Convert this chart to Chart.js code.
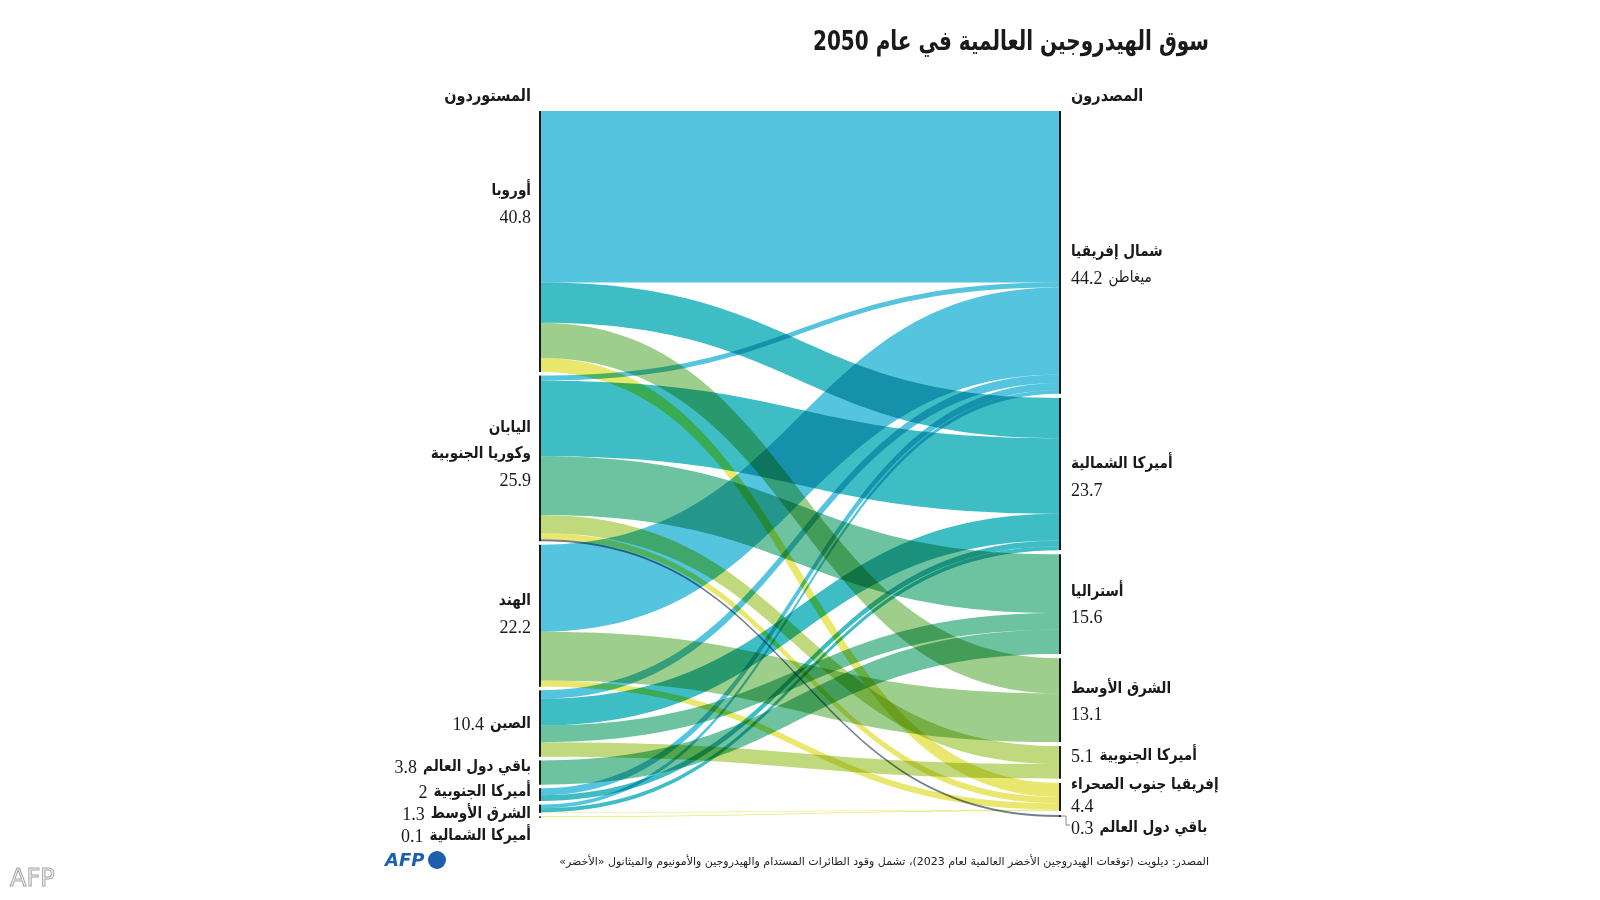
<!DOCTYPE html>
<html>
<head>
<meta charset="utf-8">
<script src="https://cdn.jsdelivr.net/npm/chart.js@4.4.1/dist/chart.umd.min.js"></script>
<style>
  html, body { margin: 0; padding: 0; background: #fff; }
  #wrap { width: 1600px; height: 900px; position: relative; }
</style>
</head>
<body>
<div id="wrap"><canvas id="chart" width="1600" height="900"></canvas></div>
<script>
// --- DADOS ---
const importers = ['أوروبا', 'اليابان وكوريا الجنوبية', 'الهند', 'الصين', 'باقي دول العالم', 'أميركا الجنوبية', 'الشرق الأوسط', 'أميركا الشمالية'];
const importerValues = ['40.8', '25.9', '22.2', '10.4', '3.8', '2', '1.3', '0.1'];
const exporters = ['شمال إفريقيا', 'أميركا الشمالية', 'أستراليا', 'الشرق الأوسط', 'أميركا الجنوبية', 'إفريقيا جنوب الصحراء', 'باقي دول العالم'];
const exporterValues = ['44.2', '23.7', '15.6', '13.1', '5.1', '4.4', '0.3'];

// fluxos de cada exportador, na ordem dos importadores
const fromNorthAfrica  = [26.8, 0.8, 13.6, 1.3, 0,   1.1, 0.6, 0];
const fromNorthAmerica = [6.3, 11.8, 0,    4.2, 0,   0.9, 0.6, 0];
const fromAustralia    = [0,    9.2, 0,    2.6, 3.8, 0,   0,   0];
const fromMiddleEast   = [5.5,  0,   7.6,  0,   0,   0,   0,   0];
const fromSouthAmerica = [0,    2.8, 0,    2.3, 0,   0,   0,   0];
const fromSubSahara    = [2.2,  1.0, 1.0,  0,   0,   0,   0.1, 0.1];
const fromRestOfWorld  = [0,    0.3, 0,    0,   0,   0,   0,   0];

const flows = [fromNorthAfrica, fromNorthAmerica, fromAustralia, fromMiddleEast, fromSouthAmerica, fromSubSahara, fromRestOfWorld];
const flowColors = ['#55c4de', '#3ebdc5', '#6dc3a0', '#9dce8c', '#bfd97c', '#eae76e', '#6f7f8e'];

// tamanhos dos nós a partir dos fluxos
const leftSizes = importers.map((_, i) => flows.reduce((s, f) => s + f[i], 0));
const rightSizes = flows.map(f => f.reduce((s, v) => s + v, 0));
const GAP_L = 0.55;
const sumL = leftSizes.reduce((a, b) => a + b, 0);
const sumR = rightSizes.reduce((a, b) => a + b, 0);
const Y_MAX = sumL + GAP_L * (leftSizes.length - 1);
const GAP_R = (Y_MAX - sumR) / (rightSizes.length - 1);

const ARABIC = "'DejaVu Sans', 'Noto Sans', sans-serif";
const DIGITS = "'Liberation Serif', 'DejaVu Serif', serif";
const K = 0.85; // compressão horizontal do texto árabe

function tops(sizes, gap) {
    const out = [];
    let acc = 0;
    sizes.forEach(s => { out.push(acc); acc += s + gap; });
    return out;
}

// --- PLUGIN SANKEY ---
const sankeyPlugin = {
    id: 'sankey',
    afterDatasetsDraw(chart) {
        const { ctx, scales: { x, y } } = chart;
        const xL = x.getPixelForValue(0);
        const xR = x.getPixelForValue(1);
        const xm = (xL + xR) / 2;

        const leftTop = tops(leftSizes, GAP_L);
        const rightTop = tops(rightSizes, GAP_R);
        const leftCur = leftTop.slice();
        const rightCur = rightTop.slice();

        ctx.save();
        ctx.globalCompositeOperation = 'multiply';
        flows.forEach((f, e) => {
            f.forEach((v, i) => {
                if (!v) return;
                const a0 = y.getPixelForValue(leftCur[i]);
                const a1 = y.getPixelForValue(leftCur[i] + v);
                const b0 = y.getPixelForValue(rightCur[e]);
                const b1 = y.getPixelForValue(rightCur[e] + v);
                leftCur[i] += v;
                rightCur[e] += v;
                ctx.beginPath();
                ctx.moveTo(xL, a0);
                ctx.bezierCurveTo(xm, a0, xm, b0, xR, b0);
                ctx.lineTo(xR, b1);
                ctx.bezierCurveTo(xm, b1, xm, a1, xL, a1);
                ctx.closePath();
                ctx.fillStyle = flowColors[e];
                ctx.fill();
            });
        });
        ctx.restore();

        // barras dos nós
        ctx.save();
        ctx.fillStyle = '#1a1a1a';
        leftSizes.forEach((s, i) => {
            const t = y.getPixelForValue(leftTop[i]);
            const b = y.getPixelForValue(leftTop[i] + s);
            ctx.fillRect(xL - 2, t, 2, Math.max(b - t, 1.5));
        });
        rightSizes.forEach((s, i) => {
            const t = y.getPixelForValue(rightTop[i]);
            const b = y.getPixelForValue(rightTop[i] + s);
            ctx.fillRect(xR, t, 2, Math.max(b - t, 1.5));
        });
        // conector do rótulo "باقي دول العالم 0.3"
        const rb = y.getPixelForValue(rightTop[6] + rightSizes[6] / 2);
        ctx.strokeStyle = '#8a8a8a';
        ctx.lineWidth = 1;
        ctx.beginPath();
        ctx.moveTo(xR + 2, rb);
        ctx.lineTo(xR + 7, rb);
        ctx.lineTo(xR + 7, rb + 9);
        ctx.lineTo(xR + 11, rb + 9);
        ctx.stroke();
        ctx.restore();

        drawTexts(ctx, xL, xR);
    }
};

// escreve texto (com compressão horizontal opcional) e devolve a largura
function txt(ctx, s, x, y, font, align, color, k) {
    k = k || 1;
    ctx.font = font;
    ctx.textAlign = align;
    ctx.fillStyle = color || '#1a1a1a';
    ctx.save();
    ctx.translate(x, y);
    ctx.scale(k, 1);
    ctx.fillText(s, 0, 0);
    ctx.restore();
    return ctx.measureText(s).width * k;
}

function drawTexts(ctx, xL, xR) {
    ctx.save();
    ctx.direction = 'rtl';
    ctx.textBaseline = 'middle';
    const bold = 'bold 16px ' + ARABIC;
    const num = '18px ' + DIGITS;
    const lx = xL - 10;   // borda direita dos rótulos da esquerda
    const rx = xR + 12;   // borda esquerda dos rótulos da direita

    // título (ajustado à largura do original) e cabeçalhos
    const title = 'سوق الهيدروجين العالمية في عام 2050';
    ctx.font = 'bold 27px ' + ARABIC;
    const tk = 396 / ctx.measureText(title).width;
    txt(ctx, title, 1209, 43, 'bold 27px ' + ARABIC, 'right', '#1a1a1a', tk);
    txt(ctx, 'المستوردون', lx, 97, 'bold 17px ' + ARABIC, 'right', null, K);
    txt(ctx, 'المصدرون', rx, 97, 'bold 17px ' + ARABIC, 'left', null, K);

    // importadores (esquerda)
    txt(ctx, importers[0], lx, 191, bold, 'right', null, K);
    txt(ctx, importerValues[0], lx, 218, num, 'right');
    txt(ctx, 'اليابان', lx, 428, bold, 'right', null, K);
    txt(ctx, 'وكوريا الجنوبية', lx, 454, bold, 'right', null, K);
    txt(ctx, importerValues[1], lx, 481, num, 'right');
    txt(ctx, importers[2], lx, 601, bold, 'right', null, K);
    txt(ctx, importerValues[2], lx, 628, num, 'right');
    [[3, 724], [4, 767], [5, 792], [6, 814], [7, 836]].forEach(([i, yy]) => {
        const w = txt(ctx, importers[i], lx, yy, bold, 'right', null, K);
        txt(ctx, importerValues[i], lx - w - 6, yy + 1, num, 'right');
    });

    // exportadores (direita)
    txt(ctx, exporters[0], rx, 252, bold, 'left', null, K);
    const w0 = txt(ctx, exporterValues[0], rx, 279, num, 'left');
    txt(ctx, 'ميغاطن', rx + w0 + 6, 278, '16px ' + ARABIC, 'left', null, K);
    [[1, 464, 491], [2, 592, 618], [3, 689, 715], [5, 785, 807]].forEach(([i, y1, y2]) => {
        txt(ctx, exporters[i], rx, y1, bold, 'left', null, K);
        txt(ctx, exporterValues[i], rx, y2, num, 'left');
    });
    [[4, 756], [6, 828]].forEach(([i, yy]) => {
        const w = txt(ctx, exporterValues[i], rx, yy + 1, num, 'left');
        txt(ctx, exporters[i], rx + w + 6, yy, bold, 'left', null, K);
    });

    // fonte
    txt(ctx, 'المصدر: ديلويت (توقعات الهيدروجين الأخضر العالمية لعام 2023)، تشمل وقود الطائرات المستدام والهيدروجين والأمونيوم والميثانول «الأخضر»',
        1209, 862, '11px ' + ARABIC, 'right', '#222');

    // logotipo AFP
    ctx.direction = 'ltr';
    txt(ctx, 'AFP', 385, 861, 'italic bold 18px ' + ARABIC, 'left', '#1d5fae');
    ctx.beginPath();
    ctx.arc(437, 860, 9, 0, Math.PI * 2);
    ctx.fillStyle = '#1d5fae';
    ctx.fill();

    // marca d'água
    ctx.font = '24px ' + ARABIC;
    ctx.textAlign = 'left';
    ctx.fillStyle = '#f4f4f4';
    ctx.strokeStyle = '#a8a8a8';
    ctx.lineWidth = 1;
    ctx.fillText('AFP', 10, 880);
    ctx.strokeText('AFP', 10, 880);
    ctx.restore();
}

// --- GRÁFICO ---
new Chart(document.getElementById('chart'), {
    type: 'scatter',
    data: { datasets: [] },
    options: {
        responsive: false,
        animation: false,
        layout: { padding: { left: 541, right: 541, top: 111, bottom: 83 } },
        plugins: { legend: { display: false }, tooltip: { enabled: false } },
        scales: {
            x: { type: 'linear', min: 0, max: 1, display: false },
            y: { type: 'linear', min: 0, max: Y_MAX, reverse: true, display: false }
        }
    },
    plugins: [sankeyPlugin]
});
</script>
</body>
</html>
